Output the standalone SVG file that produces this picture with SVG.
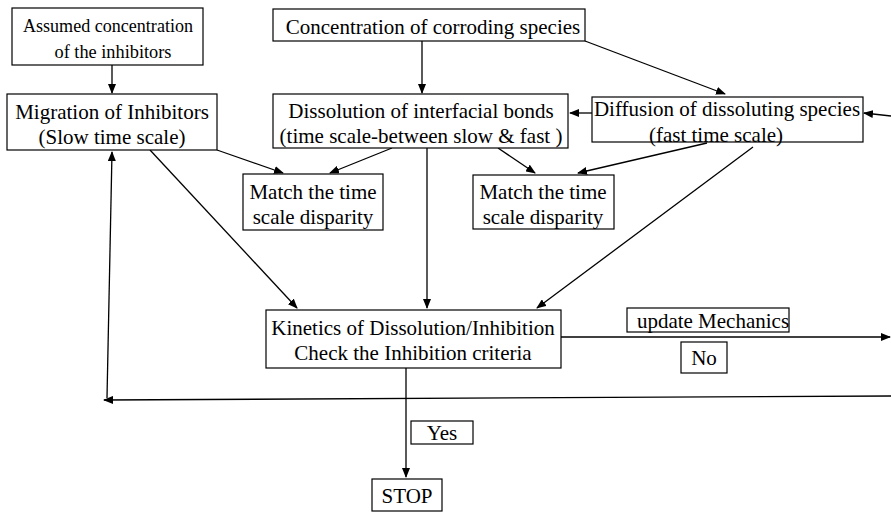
<svg xmlns="http://www.w3.org/2000/svg" width="891" height="512" viewBox="0 0 891 512">
<style>
.box{fill:#fff;stroke:#000;stroke-width:1.2}
.t{font-family:"Liberation Serif","Times New Roman",serif;font-size:21px;fill:#000;text-anchor:middle}
.s{font-size:19px}
.c{fill:none;stroke:#000;stroke-width:1.3}
</style>
<defs>
<marker id="ah" markerUnits="userSpaceOnUse" markerWidth="10" markerHeight="8" refX="9" refY="4" orient="auto">
<path d="M0,0 L10,4 L0,8 Z" fill="#000"/>
</marker>
</defs>
<rect width="891" height="512" fill="#fff"/>
<g id="connectors">
<line class="c" x1="112" y1="65" x2="112" y2="93" marker-end="url(#ah)"/>
<line class="c" x1="422" y1="41" x2="422" y2="93" marker-end="url(#ah)"/>
<line class="c" x1="585" y1="41" x2="725" y2="94" marker-end="url(#ah)"/>
<line class="c" x1="592" y1="113" x2="570" y2="113" marker-end="url(#ah)"/>
<line class="c" x1="891" y1="116" x2="864" y2="113" marker-end="url(#ah)"/>
<line class="c" x1="217" y1="150" x2="283" y2="173" marker-end="url(#ah)"/>
<line class="c" x1="392" y1="148" x2="330" y2="173" marker-end="url(#ah)"/>
<line class="c" x1="498" y1="148" x2="535" y2="173" marker-end="url(#ah)"/>
<line class="c" x1="707" y1="143" x2="578" y2="173" marker-end="url(#ah)"/>
<line class="c" x1="150" y1="150" x2="297" y2="308" marker-end="url(#ah)"/>
<line class="c" x1="427" y1="148" x2="427" y2="308" marker-end="url(#ah)"/>
<line class="c" x1="753" y1="147" x2="537" y2="308" marker-end="url(#ah)"/>
<line class="c" x1="561" y1="337" x2="890" y2="337" marker-end="url(#ah)"/>
<line class="c" x1="406" y1="368" x2="406" y2="477" marker-end="url(#ah)"/>
<line class="c" x1="891" y1="396" x2="104" y2="400" marker-end="url(#ah)"/>
<line class="c" x1="107" y1="398" x2="112" y2="152" marker-end="url(#ah)"/>
</g>
<g id="n-assumed">
<rect class="box" x="12" y="8" width="191" height="57"/>
<text class="t s" x="108" y="32" textLength="170" lengthAdjust="spacingAndGlyphs">Assumed concentration</text>
<text class="t s" x="113" y="58" textLength="117" lengthAdjust="spacingAndGlyphs">of the inhibitors</text>
</g>
<g id="n-concentration">
<rect class="box" x="273" y="9" width="312" height="32"/>
<text class="t" x="433" y="34">Concentration of corroding species</text>
</g>
<g id="n-migration">
<rect class="box" x="7" y="94" width="210" height="56"/>
<text class="t" x="112" y="119">Migration of Inhibitors</text>
<text class="t" x="112" y="144">(Slow time scale)</text>
</g>
<g id="n-dissolution">
<rect class="box" x="273" y="94" width="295" height="54"/>
<text class="t" x="421" y="118">Dissolution of interfacial bonds</text>
<text class="t" x="421" y="143">(time scale-between slow &amp; fast )</text>
</g>
<g id="n-diffusion">
<rect class="box" x="592" y="97" width="271" height="45"/>
<text class="t" x="727" y="116">Diffusion of dissoluting species</text>
<text class="t" x="716" y="142">(fast time scale)</text>
</g>
<g id="n-match1">
<rect class="box" x="243" y="174" width="140" height="56"/>
<text class="t" x="313" y="199">Match the time</text>
<text class="t" x="313" y="224">scale disparity</text>
</g>
<g id="n-match2">
<rect class="box" x="473" y="175" width="141" height="54"/>
<text class="t" x="543" y="199">Match the time</text>
<text class="t" x="543" y="224">scale disparity</text>
</g>
<g id="n-kinetics">
<rect class="box" x="266" y="310" width="295" height="58"/>
<text class="t" x="413" y="335">Kinetics of Dissolution/Inhibition</text>
<text class="t" x="413" y="360">Check the Inhibition criteria</text>
</g>
<g id="n-update">
<rect class="box" x="627" y="308" width="162" height="24"/>
<text class="t" x="713" y="328">update Mechanics</text>
</g>
<g id="n-no">
<rect class="box" x="681" y="342" width="46" height="31"/>
<text class="t" x="704" y="365">No</text>
</g>
<g id="n-yes">
<rect class="box" x="411" y="421" width="62" height="23"/>
<text class="t" x="442" y="440">Yes</text>
</g>
<g id="n-stop">
<rect class="box" x="372" y="479" width="70" height="32"/>
<text class="t" x="407" y="503">STOP</text>
</g>
</svg>
